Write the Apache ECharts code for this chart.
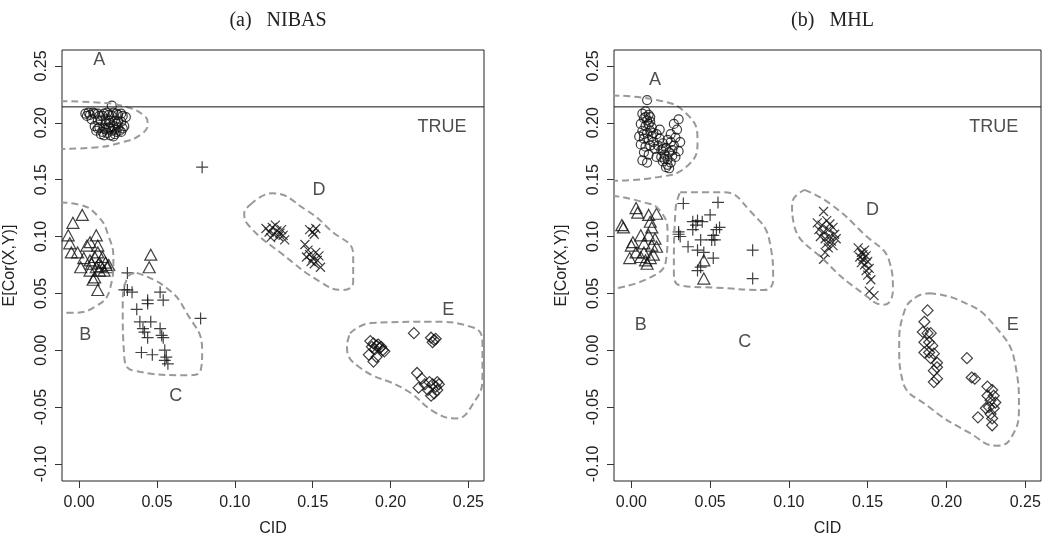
<!DOCTYPE html>
<html><head><meta charset="utf-8">
<script src="https://cdn.jsdelivr.net/npm/echarts@6/dist/echarts.min.js"></script>
<style>html,body{margin:0;padding:0;background:#fff}#c{width:1054px;height:543px}</style>
</head><body><div id="c"></div>
<script>
// ---- tick labels ----
const xTicks = [0, 0.05, 0.10, 0.15, 0.20, 0.25];
const yTicks = [-0.10, -0.05, 0.00, 0.05, 0.10, 0.15, 0.20, 0.25];
const panelTitles = ['(a)   NIBAS', '(b)   MHL'];
const trueValue = 0.214;

// ---- panel (a) NIBAS ----
const aA = [[0.004,0.208],[0.007,0.207],[0.010,0.208],[0.013,0.206],[0.016,0.208],[0.019,0.207],[0.022,0.209],[0.025,0.207],[0.028,0.206],[0.030,0.205],[0.021,0.215],
 [0.008,0.203],[0.012,0.202],[0.017,0.203],[0.023,0.202],[0.027,0.201],
 [0.010,0.197],[0.013,0.196],[0.016,0.195],[0.019,0.196],[0.022,0.197],[0.025,0.196],[0.028,0.195],[0.011,0.193],[0.015,0.192],[0.018,0.191],[0.021,0.193],[0.024,0.192],[0.026,0.193],[0.014,0.190],[0.020,0.189],[0.023,0.190],[0.017,0.199],[0.020,0.200],[0.024,0.199],[0.006,0.209],[0.029,0.197],
 [0.005,0.206],[0.009,0.209],[0.012,0.208],[0.015,0.206],[0.018,0.209],[0.021,0.206],[0.024,0.208],[0.027,0.208],[0.014,0.202],[0.019,0.202],[0.025,0.201],[0.012,0.195],[0.017,0.194],[0.020,0.195],[0.023,0.194],[0.027,0.192],[0.016,0.189],[0.022,0.188]];
const aB = [[-0.004,0.112],[0.002,0.119],[-0.007,0.101],[-0.006,0.094],[-0.005,0.086],[-0.001,0.086],[0.007,0.095],[0.011,0.101],[0.005,0.092],[0.012,0.092],[0.003,0.081],[0.001,0.073],[0.007,0.079],[0.010,0.082],[0.013,0.077],[0.017,0.077],[0.018,0.073],[0.011,0.073],[0.007,0.070],[0.010,0.064],[0.009,0.062],[0.012,0.053],[0.013,0.070],[0.015,0.082],[0.012,0.086],[0.019,0.075],[0.014,0.074],[0.016,0.070],[0.008,0.076],[0.046,0.084],[0.045,0.073]];
const aC = [[0.031,0.068],[0.031,0.053],[0.034,0.051],[0.029,0.053],[0.037,0.036],[0.044,0.044],[0.044,0.041],[0.052,0.051],[0.054,0.044],[0.039,0.025],[0.046,0.025],[0.041,0.019],[0.042,0.016],[0.044,0.011],[0.052,0.019],[0.053,0.013],[0.054,0.011],[0.040,-0.002],[0.047,-0.004],[0.055,0.000],[0.056,-0.006],[0.057,-0.012],[0.055,-0.009],[0.078,0.028],[0.079,0.161]];
const aD = [[0.120,0.107],[0.122,0.104],[0.124,0.108],[0.125,0.102],[0.127,0.105],[0.128,0.100],[0.130,0.106],[0.131,0.101],[0.126,0.110],[0.123,0.099],[0.129,0.103],[0.132,0.097],
 [0.148,0.106],[0.150,0.104],[0.152,0.107],[0.151,0.102],
 [0.145,0.093],[0.147,0.088],[0.148,0.084],[0.150,0.081],[0.152,0.086],[0.149,0.078],[0.151,0.076],[0.153,0.079],[0.155,0.073],[0.146,0.082],[0.154,0.083]];
const aE = [[0.187,0.008],[0.189,0.006],[0.191,0.004],[0.193,0.002],[0.195,0.000],[0.192,0.005],[0.190,0.001],[0.194,0.003],[0.196,-0.001],[0.188,0.003],[0.186,-0.004],[0.189,-0.010],[0.191,-0.006],
 [0.215,0.015],[0.226,0.011],[0.228,0.009],[0.227,0.007],[0.229,0.010],
 [0.217,-0.020],[0.220,-0.025],[0.222,-0.030],[0.218,-0.033],[0.225,-0.028],[0.227,-0.030],[0.229,-0.032],[0.230,-0.035],[0.228,-0.038],[0.226,-0.040],[0.231,-0.030],[0.230,-0.028],[0.224,-0.035]];
// contours (a)
const aContA = [[-0.012,0.219],[0.010,0.218],[0.030,0.214],[0.042,0.206],[0.044,0.199],[0.040,0.190],[0.028,0.183],[0.008,0.178],[-0.012,0.177]];
const aContB = [[-0.012,0.130],[0.000,0.128],[0.012,0.118],[0.019,0.100],[0.022,0.080],[0.020,0.055],[0.010,0.038],[-0.005,0.033],[-0.012,0.033]];
const aContC = [[0.037,0.068],[0.056,0.055],[0.069,0.033],[0.079,0.000],[0.078,-0.018],[0.070,-0.022],[0.035,-0.018],[0.029,-0.006],[0.028,0.038],[0.031,0.064],[0.037,0.068]];
const aContD = [[0.110,0.128],[0.124,0.138],[0.145,0.124],[0.161,0.106],[0.176,0.084],[0.176,0.060],[0.169,0.053],[0.155,0.060],[0.130,0.085],[0.110,0.108],[0.106,0.120],[0.110,0.128]];
const aContE = [[0.174,0.015],[0.188,0.024],[0.225,0.025],[0.253,0.020],[0.259,0.006],[0.259,-0.024],[0.253,-0.047],[0.242,-0.060],[0.229,-0.055],[0.210,-0.035],[0.180,-0.015],[0.172,0.003],[0.174,0.015]];
const aLabels = [['A',0.013,0.255],['B',0.004,0.013],['C',0.062,-0.040],['D',0.154,0.141],['E',0.237,0.035],['TRUE',0.233,0.196]];

// ---- panel (b) MHL ----
const bA = [[0.010,0.220],
 [0.007,0.208],[0.009,0.210],[0.011,0.207],[0.008,0.204],[0.010,0.202],[0.012,0.205],[0.006,0.199],[0.009,0.197],[0.011,0.199],[0.013,0.196],[0.007,0.193],[0.010,0.191],[0.012,0.193],[0.005,0.188],[0.008,0.186],[0.011,0.185],[0.013,0.188],[0.006,0.181],[0.009,0.179],[0.012,0.180],[0.008,0.174],[0.011,0.172],[0.007,0.167],[0.010,0.165],[0.014,0.183],[0.015,0.177],
 [0.016,0.190],[0.018,0.186],[0.017,0.180],[0.019,0.176],[0.020,0.182],[0.021,0.172],[0.022,0.178],[0.023,0.168],[0.024,0.174],[0.025,0.165],[0.026,0.171],[0.020,0.166],[0.022,0.161],[0.024,0.160],[0.027,0.180],[0.028,0.187],[0.029,0.194],[0.027,0.199],[0.030,0.203],[0.025,0.190],[0.023,0.185],[0.030,0.175],[0.031,0.183],[0.018,0.194],[0.016,0.170],
 [0.009,0.205],[0.012,0.201],[0.008,0.190],[0.014,0.191],[0.019,0.170],[0.021,0.168],[0.023,0.163],[0.026,0.176],[0.028,0.170],[0.025,0.183],[0.020,0.177]];
const bB = [[-0.005,0.108],[-0.006,0.110],[0.003,0.125],[0.004,0.121],[0.011,0.119],[0.016,0.120],[0.012,0.113],[0.013,0.108],[0.006,0.101],[0.011,0.101],[0.015,0.098],[0.001,0.095],[0.000,0.092],[0.008,0.094],[0.013,0.092],[0.016,0.091],[0.003,0.086],[0.008,0.086],[0.014,0.084],[-0.001,0.081],[0.006,0.082],[0.009,0.079],[0.012,0.081],[0.010,0.076],[0.046,0.079],[0.046,0.063]];
const bC = [[0.033,0.129],[0.055,0.130],[0.050,0.119],[0.039,0.113],[0.042,0.114],[0.041,0.110],[0.045,0.113],[0.056,0.108],[0.054,0.106],[0.039,0.106],[0.030,0.104],[0.031,0.100],[0.030,0.102],[0.052,0.101],[0.051,0.097],[0.053,0.097],[0.044,0.097],[0.036,0.091],[0.042,0.088],[0.046,0.086],[0.052,0.081],[0.044,0.073],[0.042,0.070],[0.077,0.088],[0.077,0.063]];
const bD = [[0.122,0.122],[0.118,0.112],[0.121,0.110],[0.124,0.114],[0.126,0.111],[0.119,0.106],[0.122,0.104],[0.125,0.106],[0.128,0.108],[0.120,0.100],[0.123,0.098],[0.126,0.100],[0.129,0.102],[0.124,0.094],[0.127,0.096],[0.130,0.098],[0.125,0.090],[0.128,0.092],[0.123,0.086],[0.122,0.080],
 [0.144,0.090],[0.146,0.086],[0.148,0.088],[0.145,0.082],[0.147,0.080],[0.149,0.083],[0.146,0.077],[0.148,0.075],[0.150,0.078],[0.149,0.070],[0.151,0.072],[0.150,0.066],[0.152,0.062],[0.151,0.052],[0.154,0.048],[0.147,0.084]];
const bE = [[0.188,0.035],[0.186,0.025],[0.185,0.016],[0.188,0.015],[0.190,0.015],[0.186,0.007],[0.189,0.007],[0.191,0.004],[0.186,-0.002],[0.189,-0.002],[0.192,-0.003],[0.190,-0.007],[0.194,-0.011],[0.194,-0.015],[0.192,-0.018],[0.194,-0.025],[0.192,-0.028],
 [0.213,-0.007],[0.216,-0.024],[0.218,-0.025],
 [0.226,-0.032],[0.229,-0.035],[0.226,-0.040],[0.230,-0.040],[0.228,-0.044],[0.231,-0.046],[0.227,-0.050],[0.230,-0.051],[0.225,-0.051],[0.228,-0.056],[0.220,-0.059],[0.229,-0.060],[0.229,-0.066]];
const bContA = [[-0.012,0.224],[0.016,0.220],[0.035,0.208],[0.042,0.185],[0.037,0.164],[0.016,0.152],[-0.012,0.149]];
const bContB = [[-0.012,0.136],[0.008,0.130],[0.018,0.123],[0.023,0.103],[0.022,0.079],[0.012,0.064],[-0.012,0.054]];
const bContC = [[0.031,0.139],[0.058,0.139],[0.075,0.123],[0.088,0.094],[0.090,0.062],[0.084,0.053],[0.054,0.055],[0.031,0.057],[0.027,0.070],[0.028,0.123],[0.031,0.139]];
const bContD = [[0.110,0.141],[0.126,0.129],[0.147,0.103],[0.164,0.077],[0.166,0.053],[0.160,0.040],[0.147,0.050],[0.124,0.077],[0.103,0.112],[0.102,0.129],[0.110,0.141]];
const bContE = [[0.189,0.050],[0.208,0.044],[0.229,0.024],[0.244,-0.015],[0.246,-0.050],[0.241,-0.077],[0.232,-0.084],[0.215,-0.073],[0.189,-0.050],[0.172,-0.026],[0.170,0.003],[0.173,0.033],[0.181,0.047],[0.189,0.050]];
const bLabels = [['A',0.015,0.238],['B',0.006,0.022],['C',0.072,0.007],['D',0.153,0.123],['E',0.242,0.022],['TRUE',0.230,0.196]];

// ---- rendering ----
const xMin = -0.011, xMax = 0.26, yMin = -0.115, yMax = 0.264;
const grids = [{left:62, top:50, width:422, height:431}, {left:614, top:50, width:427, height:431}];
const sym = {
  circle: {symbol:'circle', symbolSize:9},
  triangle: {symbol:'triangle', symbolSize:[12,11]},
  plus: {symbol:'path://M0,6H12M6,0V12', symbolSize:12},
  cross: {symbol:'path://M0,0L10,10M10,0L0,10', symbolSize:9},
  diamond: {symbol:'diamond', symbolSize:11}
};
const panels = [
  {pts:[[aA,'circle'],[aB,'triangle'],[aC,'plus'],[aD,'cross'],[aE,'diamond']], conts:[aContA,aContB,aContC,aContD,aContE], labels:aLabels},
  {pts:[[bA,'circle'],[bB,'triangle'],[bC,'plus'],[bD,'cross'],[bE,'diamond']], conts:[bContA,bContB,bContC,bContD,bContE], labels:bLabels}
];
const font = 'Liberation Sans, Arial, sans-serif';
const xAxes = [], yAxes = [], series = [], titles = [];
panels.forEach((p, i) => {
  xAxes.push({gridIndex:i, type:'value', min:xMin, max:xMax, name:'CID', nameLocation:'middle', nameGap:40,
    nameTextStyle:{fontFamily:font, fontSize:16, color:'#222'},
    axisLine:{show:false, onZero:false}, splitLine:{show:false},
    axisTick:{show:true, length:7, inside:false, customValues:xTicks, lineStyle:{color:'#333'}},
    axisLabel:{customValues:xTicks, formatter:v=>v.toFixed(2), fontFamily:font, fontSize:16, color:'#222', margin:14}});
  yAxes.push({gridIndex:i, type:'value', min:yMin, max:yMax, name:'E[Cor(X,Y)]', nameLocation:'middle', nameGap:44,
    nameTextStyle:{fontFamily:font, fontSize:16, color:'#222'},
    axisLine:{show:false, onZero:false}, splitLine:{show:false},
    axisTick:{show:true, length:7, inside:false, customValues:yTicks, lineStyle:{color:'#333'}},
    axisLabel:{customValues:yTicks, formatter:v=>v.toFixed(2), fontFamily:font, fontSize:16, color:'#222', rotate:90, margin:12}});
  titles.push({text:panelTitles[i], left:grids[i].left + grids[i].width/2, top:6, textAlign:'center',
    textStyle:{fontFamily:'Liberation Serif, Times New Roman, serif', fontSize:20, fontWeight:'normal', color:'#222'}});
  p.conts.forEach(c => series.push({type:'line', xAxisIndex:i, yAxisIndex:i, data:c, smooth:0.5, symbol:'none', silent:true,
    lineStyle:{color:'#999', width:2, type:[7,4]}}));
  p.pts.forEach(([d, s]) => series.push(Object.assign({type:'scatter', xAxisIndex:i, yAxisIndex:i, data:d, silent:true,
    itemStyle:{color:'none', borderColor:'#111', borderWidth:1.2}}, sym[s])));
  series.push({type:'scatter', xAxisIndex:i, yAxisIndex:i, symbolSize:0, silent:true,
    data:p.labels.map(l => ({name:l[0], value:[l[1], l[2]]})),
    label:{show:true, position:'inside', formatter:q=>q.name, fontFamily:font, fontSize:18, color:'#222'}});
  series.push({type:'line', xAxisIndex:i, yAxisIndex:i, data:[[xMin, trueValue],[xMax, trueValue]], silent:true, symbol:'none',
    lineStyle:{color:'#111', width:1, type:'solid'}});
});
const chart = echarts.init(document.getElementById('c'), null, {renderer:'canvas'});
chart.setOption({
  animation:false, backgroundColor:'#fff',
  title:titles,
  grid:grids.map(g => Object.assign({show:true, borderColor:'#222', borderWidth:1, backgroundColor:'transparent'}, g)),
  xAxis:xAxes, yAxis:yAxes, series:series
});
</script></body></html>
